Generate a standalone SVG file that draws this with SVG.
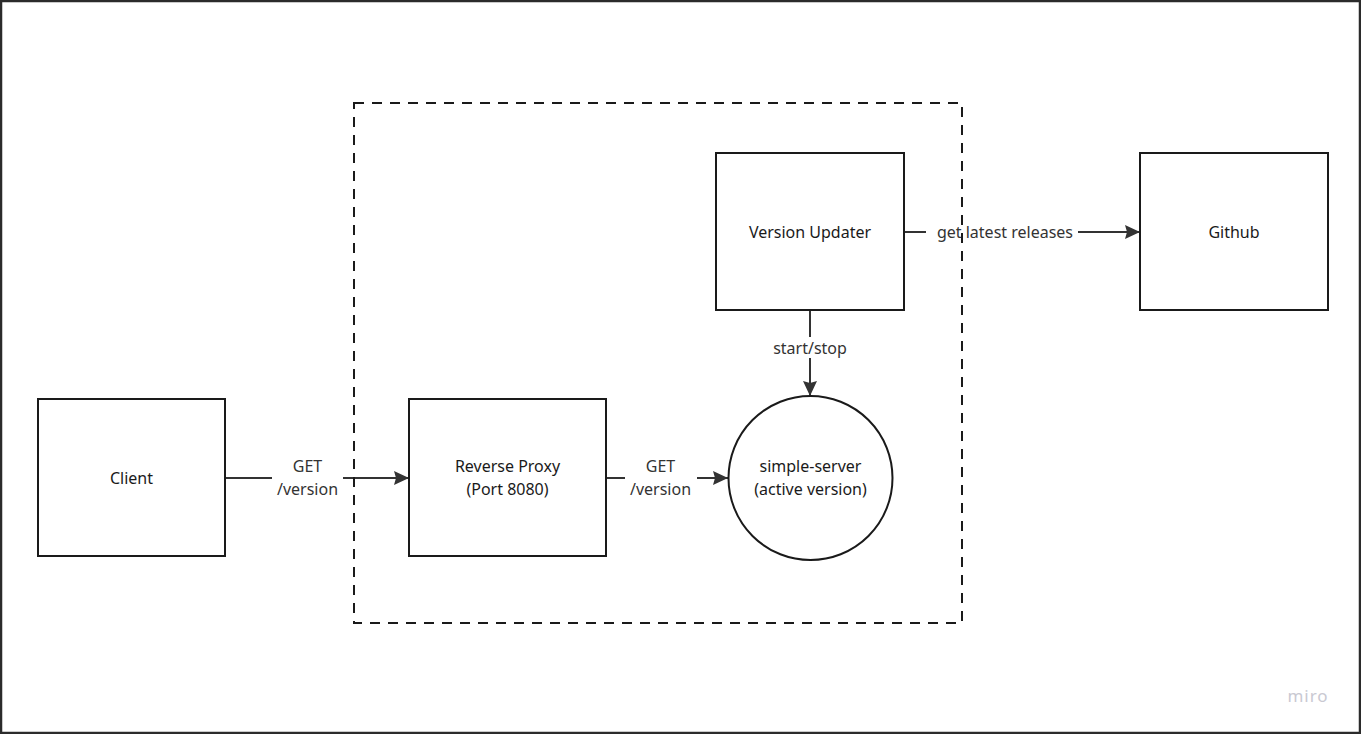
<svg xmlns="http://www.w3.org/2000/svg" width="1361" height="734" viewBox="0 0 1361 734">
  <style>
    .node { fill: #ffffff; stroke: #1a1a1a; stroke-width: 2; }
    .txt { font-family: "Noto Sans", "Open Sans", sans-serif; font-size: 16px; fill: #1a1a1a; text-anchor: middle; }
    .lbl { font-family: "Noto Sans", "Open Sans", sans-serif; font-size: 16px; fill: #333333; text-anchor: middle; }
    .edge { stroke: #333333; stroke-width: 2; fill: none; }
    .lblbg { fill: #ffffff; }
  </style>
  <defs>
    <marker id="arrow" viewBox="0 0 15 14" refX="15" refY="7" markerWidth="15" markerHeight="14" markerUnits="userSpaceOnUse" orient="auto">
      <path d="M0,0 L15,7 L0,14 L2,7 Z" fill="#333333"/>
    </marker>
  </defs>
  <rect x="0" y="0" width="1361" height="734" fill="#ffffff"/>
  <rect x="1" y="1" width="1359" height="732" fill="none" stroke="#2b2b2b" stroke-width="2.5"/>

  <g id="connectors">
    <g id="edge-client-proxy">
      <line class="edge" x1="226" y1="478" x2="409" y2="478" marker-end="url(#arrow)"/>
      <rect class="lblbg" x="272" y="455" width="71" height="46"/>
      <text class="lbl" x="307.5" y="472">GET</text>
      <text class="lbl" x="307.5" y="495">/version</text>
    </g>
    <g id="edge-proxy-server">
      <line class="edge" x1="607" y1="478" x2="728" y2="478" marker-end="url(#arrow)"/>
      <rect class="lblbg" x="625" y="455" width="72" height="46"/>
      <text class="lbl" x="660.5" y="472">GET</text>
      <text class="lbl" x="660.5" y="495">/version</text>
    </g>
    <g id="edge-updater-server">
      <line class="edge" x1="810" y1="311" x2="810" y2="396" marker-end="url(#arrow)"/>
      <rect class="lblbg" x="768" y="337" width="84" height="21"/>
      <text class="lbl" x="810" y="354">start/stop</text>
    </g>
    <g id="edge-updater-github">
      <line class="edge" x1="905" y1="232" x2="1140" y2="232" marker-end="url(#arrow)"/>
      <rect class="lblbg" x="926" y="221" width="152" height="22"/>
      <text class="lbl" x="1005" y="238">get latest releases</text>
    </g>
  </g>

  <g id="node-client">
    <rect class="node" x="38" y="399" width="187" height="157"/>
    <text class="txt" x="131.5" y="484">Client</text>
  </g>
  <g id="node-proxy">
    <rect class="node" x="409" y="399" width="197" height="157"/>
    <text class="txt" x="507.5" y="472">Reverse Proxy</text>
    <text class="txt" x="507.5" y="495">(Port 8080)</text>
  </g>
  <g id="node-server">
    <circle class="node" cx="810.5" cy="478" r="82"/>
    <text class="txt" x="810.5" y="472">simple-server</text>
    <text class="txt" x="810.5" y="495">(active version)</text>
  </g>
  <g id="node-updater">
    <rect class="node" x="716" y="153" width="188" height="157"/>
    <text class="txt" x="810" y="238">Version Updater</text>
  </g>
  <g id="node-github">
    <rect class="node" x="1140" y="153" width="188" height="157"/>
    <text class="txt" x="1234" y="238">Github</text>
  </g>

  <g id="group-boundary">
    <rect x="354" y="103" width="608" height="520" fill="none" stroke="#1a1a1a" stroke-width="2" stroke-dasharray="10 8"/>
  </g>

  <text x="1308" y="702" font-family="Noto Sans, sans-serif" font-size="17" fill="#c9c9d2" text-anchor="middle" letter-spacing="1">miro</text>
</svg>
